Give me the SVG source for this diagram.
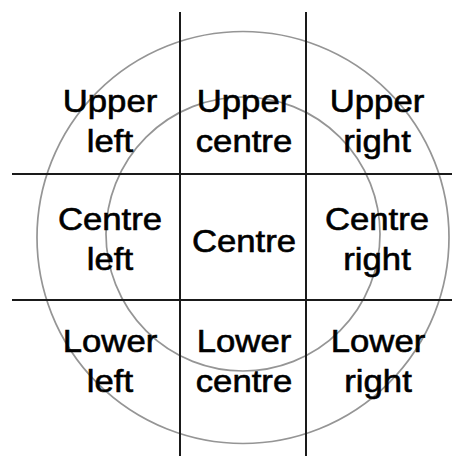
<svg xmlns="http://www.w3.org/2000/svg" width="452" height="456" viewBox="0 0 452 456">
<style>
.ring{fill:none;stroke:#959595;stroke-width:1.7}
.grid{stroke:#1a1a1a;stroke-width:2;fill:none}
.lbl{font-family:"Liberation Sans",Arial,sans-serif;font-size:31px;fill:#000;stroke:#000;stroke-width:0.6;text-anchor:middle}
</style>
<rect width="452" height="456" fill="#fff"/>
<g id="rings">
<circle class="ring" cx="243" cy="237.5" r="206"/>
<circle class="ring" cx="243" cy="234" r="137"/>
</g>
<g id="connectors">
<line class="grid" x1="180" y1="12" x2="180" y2="456"/>
<line class="grid" x1="306" y1="12" x2="306" y2="456"/>
<line class="grid" x1="12" y1="174" x2="452" y2="174"/>
<line class="grid" x1="12" y1="300" x2="452" y2="300"/>
</g>
<g id="upper-left"><text class="lbl" transform="translate(110 112) scale(1.12 1)"><tspan x="0" y="0">Upper</tspan><tspan x="0" y="40">left</tspan></text></g>
<g id="upper-centre"><text class="lbl" transform="translate(244 112) scale(1.12 1)"><tspan x="0" y="0">Upper</tspan><tspan x="0" y="40">centre</tspan></text></g>
<g id="upper-right"><text class="lbl" transform="translate(377 112) scale(1.12 1)"><tspan x="0" y="0">Upper</tspan><tspan x="0" y="40">right</tspan></text></g>
<g id="centre-left"><text class="lbl" transform="translate(110 230) scale(1.12 1)"><tspan x="0" y="0">Centre</tspan><tspan x="0" y="40">left</tspan></text></g>
<g id="centre"><text class="lbl" transform="translate(244 252) scale(1.12 1)"><tspan x="0" y="0">Centre</tspan></text></g>
<g id="centre-right"><text class="lbl" transform="translate(377 230) scale(1.12 1)"><tspan x="0" y="0">Centre</tspan><tspan x="0" y="40">right</tspan></text></g>
<g id="lower-left"><text class="lbl" transform="translate(110 352) scale(1.12 1)"><tspan x="0" y="0">Lower</tspan><tspan x="0" y="40">left</tspan></text></g>
<g id="lower-centre"><text class="lbl" transform="translate(244 352) scale(1.12 1)"><tspan x="0" y="0">Lower</tspan><tspan x="0" y="40">centre</tspan></text></g>
<g id="lower-right"><text class="lbl" transform="translate(378 352) scale(1.12 1)"><tspan x="0" y="0">Lower</tspan><tspan x="0" y="40">right</tspan></text></g>
</svg>
